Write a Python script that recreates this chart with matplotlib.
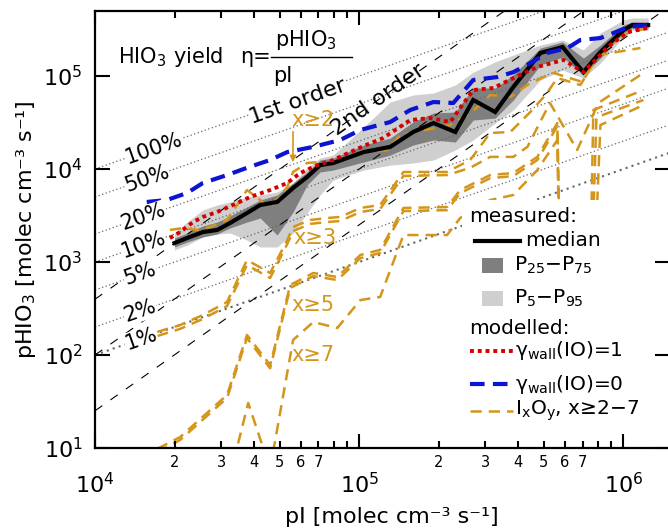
import matplotlib
matplotlib.use('agg')
import matplotlib.pyplot as plt
from matplotlib.patches import Rectangle
from matplotlib.ticker import FixedLocator, FixedFormatter, NullLocator
import numpy as np

# measured pHIO3 (binned by pI): median and percentile bands
pI_meas = [2.0e4, 2.23e4, 2.56e4, 2.90e4, 3.24e4, 3.76e4, 4.22e4, 4.89e4, 5.62e4, 6.35e4,
           7.11e4, 7.97e4, 1.04e5, 1.31e5, 1.60e5, 1.91e5, 2.31e5, 2.70e5, 3.27e5, 3.83e5,
           4.85e5, 5.88e5, 7.05e5, 8.18e5, 1.0e6, 1.08e6, 1.24e6]
median = [1600, 1810, 2100, 2210, 2620, 3360, 4100, 4420, 6250, 8200,
          11000, 11600, 15200, 17300, 25000, 31200, 25000, 55200, 41000, 76200,
          1.77e5, 2.05e5, 1.10e5, 1.81e5, 3.12e5, 3.53e5, 3.53e5]
p95 = [2050, 2690, 3630, 4100, 4420, 5000, 5250, 5660, 7070, 10300,
       13100, 14100, 28300, 52500, 62500, 65600, 80000, 1.10e5, 1.42e5, 1.68e5,
       2.15e5, 2.44e5, 1.91e5, 2.90e5, 4.00e5, 4.21e5, 4.21e5]
p5 = [1350, 1520, 1860, 2000, 2050, 1720, 1450, 1450, 2050, 3360,
      5250, 7620, 9750, 11000, 11600, 12500, 16000, 20500, 31200, 43100,
      90500, 1.16e5, 9.51e4, 1.38e5, 2.62e5, 3.12e5, 3.12e5]
p75 = [1810, 2050, 2440, 2690, 3120, 3900, 4640, 5250, 7070, 9290,
       12500, 13100, 18100, 21500, 32000, 40000, 41000, 74300, 74300, 1.03e5,
       2.00e5, 2.32e5, 1.56e5, 2.15e5, 3.53e5, 3.81e5, 3.81e5]
p25 = [1450, 1640, 1860, 2000, 2320, 2690, 2970, 1950, 3450, 6730,
       9290, 9750, 11900, 14100, 18100, 20500, 19500, 33600, 35300, 55200,
       1.31e5, 1.60e5, 1.03e5, 1.56e5, 2.90e5, 3.28e5, 3.28e5]

# modelled, gamma_wall(IO) = 1
pI_red = [1.92e4, 2.10e4, 2.35e4, 2.56e4, 2.90e4, 3.45e4, 3.86e4, 4.60e4, 5.34e4, 5.98e4,
          6.94e4, 7.97e4, 1.04e5, 1.23e5, 1.56e5, 1.86e5, 2.21e5, 2.41e5, 2.70e5, 3.22e5,
          3.83e5, 4.72e5, 5.93e5, 7.05e5, 7.97e5, 8.70e5, 1.04e6, 1.23e6]
red = [1810, 2100, 2690, 3050, 3450, 4300, 5000, 5940, 7070, 9060,
       11000, 12500, 17700, 21500, 33600, 35300, 32000, 45300, 70600, 74300,
       95100, 1.25e5, 1.49e5, 1.10e5, 1.56e5, 2.05e5, 2.97e5, 3.28e5]

# modelled, gamma_wall(IO) = 0
pI_blue = [1.57e4, 1.87e4, 2.23e4, 2.56e4, 3.16e4, 3.76e4, 4.60e4, 5.34e4, 6.70e4, 8.47e4,
           1.01e5, 1.31e5, 1.56e5, 1.91e5, 2.27e5, 2.70e5, 3.33e5, 3.83e5, 4.44e5, 5.15e5,
           6.14e5, 6.87e5, 8.18e5, 9.16e5, 1.04e6, 1.23e6]
blue = [4420, 4640, 5520, 7070, 8610, 10300, 12500, 15200, 17300, 20500,
        26300, 32000, 43100, 52500, 51300, 90500, 97500, 1.10e5, 1.38e5, 1.77e5,
        2.00e5, 2.44e5, 2.56e5, 2.90e5, 3.36e5, 3.53e5]

# modelled IxOy contributions, x >= 2 ... 7
pI_x2 = [1.92e4, 2.15e4, 2.43e4, 2.73e4, 3.16e4, 3.76e4, 4.22e4, 4.60e4, 5.34e4, 5.62e4,
         6.35e4, 7.11e4, 7.97e4, 9.25e4, 1.07e5, 1.28e5, 1.43e5, 1.78e5, 2.21e5, 2.56e5,
         2.87e5, 3.13e5, 3.73e5, 4.33e5, 4.98e5, 5.43e5, 7.0e5, 7.97e5, 8.93e5, 1.04e6, 1.23e6]
x2 = [2210, 2320, 2210, 2380, 2830, 5940, 4640, 3810, 6400, 9290,
      11600, 11900, 11600, 13500, 15200, 16000, 23200, 26300, 29700, 38100,
      48800, 62500, 59500, 80000, 97500, 1.08e5, 8.61e4, 1.68e5, 2.15e5, 2.90e5, 3.28e5]
pI_x3 = [1.72e4, 2.10e4, 2.56e4, 3.16e4, 3.76e4, 4.60e4, 5.34e4, 5.62e4, 6.52e4, 7.56e4,
         8.47e4, 1.01e5, 1.20e5, 1.47e5, 2.15e5, 2.63e5, 3.13e5, 3.73e5, 4.44e5, 5.07e5,
         5.62e5, 6.87e5, 8.04e5, 1.16e6]
x3 = [177, 210, 269, 371, 1050, 762, 1720, 2380, 2830, 2970,
      3050, 3810, 4100, 9290, 9290, 12500, 24400, 25000, 41000, 62500,
      95100, 80000, 1.68e5, 2.0e5]
pI_x4 = [1.72e4, 2.10e4, 2.56e4, 3.16e4, 3.76e4, 4.60e4, 5.34e4, 5.62e4, 6.52e4, 7.56e4,
         8.47e4, 1.01e5, 1.20e5, 1.47e5, 2.15e5, 2.63e5, 3.13e5, 3.83e5, 4.33e5, 5.27e5,
         6.68e5, 8.04e5, 1.19e6]
x4 = [160, 191, 244, 336, 929, 673, 1560, 2150, 2570, 2690,
      2760, 3450, 3720, 8420, 8610, 10300, 13500, 13500, 17300, 51300,
      16000, 51300, 1.08e5]
pI_x5 = [1.72e4, 2.10e4, 3.16e4, 3.76e4, 4.60e4, 5.48e4, 6.70e4, 8.26e4, 1.01e5, 1.20e5,
         1.47e5, 2.15e5, 2.41e5, 3.13e5, 3.83e5, 4.72e5, 5.62e5, 5.93e5, 7.18e5, 7.69e5, 1.19e6]
x5 = [9.8, 13.1, 37.2, 164, 78, 566, 762, 690, 1190, 1350,
      3810, 3900, 5940, 8610, 9060, 13500, 31200, 1, 1, 43100, 70700]
pI_x6 = [1.72e4, 2.10e4, 3.16e4, 3.76e4, 4.60e4, 5.48e4, 6.70e4, 8.26e4, 1.01e5, 1.20e5,
         1.47e5, 2.15e5, 2.41e5, 3.13e5, 3.83e5, 4.72e5, 5.62e5, 6.05e5, 7.05e5, 7.90e5, 1.19e6]
x6 = [9.0, 12.2, 34.5, 152, 72, 525, 705, 640, 1100, 1250,
      3530, 3610, 5500, 7970, 8400, 12500, 28900, 1, 1, 36000, 55200]
pI_x7 = [3.1e4, 3.80e4, 4.60e4, 5.62e4, 6.70e4, 8.26e4, 1.01e5, 1.20e5, 1.47e5, 2.15e5,
         2.41e5, 3.13e5, 3.83e5, 4.72e5, 5.62e5, 5.98e5, 7.05e5, 8.18e5, 1.19e6]
x7 = [3, 30.5, 6, 145, 226, 195, 390, 421, 1950, 1950,
      2970, 4640, 5250, 9750, 20500, 1, 1, 29700, 48800]

# yield guide lines (1st order) and 2nd-order guides
etas = [1.0, 0.5, 0.2, 0.1, 0.05, 0.02, 0.01]
eta_labels = ['100%', '50%', '20%', '10%', '5%', '2%', '1%']
eta_label_x = [1.67e4, 1.57e4, 1.53e4, 1.52e4, 1.48e4, 1.48e4, 1.49e4]
quad_k = [10**-6.6, 10**-6.0, 10**-5.4]

orange = '#d4961a'
W, H = 668, 530
X0, X1, Y0, Y1 = 95, 670, 448, 11   # axes box in pixels


def pax(x, y):
    return ((x - X0) / (X1 - X0), (Y0 - y) / (Y0 - Y1))


fig = plt.figure(figsize=(W / 100, H / 100), dpi=100)
ax = fig.add_axes([X0 / W, (H - Y0) / H, (X1 - X0) / W, (Y0 - Y1) / H])
ax.set_xscale('log')
ax.set_yscale('log')
ax.set_xlim(1e4, 1.5e6)
ax.set_ylim(10, 5e5)

# bands
ax.fill_between(pI_meas, p5, p95, color='#cfcfcf', lw=0, zorder=1)
ax.fill_between(pI_meas, p25, p75, color='#7f7f7f', lw=0, zorder=1.5)

# guides
xg = np.array([1e4, 1.6e6])
for eta in etas:
    ax.plot(xg, eta * xg, ls=(0, (1, 2)), color='0.4', lw=1.5 if eta == 0.01 else 0.9, zorder=2)
for k in quad_k:
    ax.plot(xg, k * xg**2, ls=(0, (8, 9)), color='k', lw=0.8, zorder=2)

# modelled IxOy lines
for xs, ys in [(pI_x7, x7), (pI_x6, x6), (pI_x5, x5), (pI_x4, x4), (pI_x3, x3), (pI_x2, x2)]:
    ax.plot(xs, ys, color=orange, lw=1.8, ls=(0, (4.5, 2.8)), zorder=3)

ax.plot(pI_meas, median, color='k', lw=3, zorder=3.5, solid_joinstyle='miter')
ax.plot(pI_blue, blue, color='#0a14d2', lw=3, ls=(0, (3.5, 2)), zorder=3.6)
ax.plot(pI_red, red, color='#d40000', lw=2.8, ls=(0, (1, 1)), zorder=3.7)

# label rotation angles from the display geometry
p0 = ax.transData.transform((1e4, 1e3))
p1 = ax.transData.transform((1e5, 1e4))
p2 = ax.transData.transform((1e5, 1e5))
ang1 = np.degrees(np.arctan2(p1[1] - p0[1], p1[0] - p0[0]))
ang2 = np.degrees(np.arctan2(p2[1] - p0[1], p2[0] - p0[0]))

for eta, lab, lx in zip(etas, eta_labels, eta_label_x):
    ax.text(lx, eta * lx, lab, rotation=ang1, rotation_mode='anchor', ha='center', va='center',
            fontsize=15, zorder=4, bbox=dict(fc='white', ec='none', pad=0.3))

ax.text(*pax(298, 102), '1st order', transform=ax.transAxes, rotation=ang1, rotation_mode='anchor',
        ha='center', va='center', fontsize=16, zorder=4,
        bbox=dict(fc='white', ec='none', pad=0.2))
ax.text(*pax(378, 100), '2nd order', transform=ax.transAxes, rotation=ang2, rotation_mode='anchor',
        ha='center', va='center', fontsize=16, zorder=4)

# yield definition
ax.text(*pax(118, 57), 'HIO$_3$ yield', transform=ax.transAxes, ha='left', va='center', fontsize=15)
ax.text(*pax(240, 57), 'η=', transform=ax.transAxes, ha='left', va='center', fontsize=15)
ax.text(*pax(306, 40), 'pHIO$_3$', transform=ax.transAxes, ha='center', va='center', fontsize=15)
ax.text(*pax(273, 76), 'pI', transform=ax.transAxes, ha='left', va='center', fontsize=15)
bx0, by = pax(271, 57)
bx1, _ = pax(352, 57)
ax.plot([bx0, bx1], [by, by], transform=ax.transAxes, color='k', lw=1)

# IxOy labels
for lab, (px, py) in [('x≥2', (313, 120)), ('x≥3', (315, 238)), ('x≥5', (313, 305)), ('x≥7', (313, 355))]:
    ax.text(*pax(px, py), lab, transform=ax.transAxes, ha='center', va='center',
            fontsize=15, color=orange, zorder=4)
ax.annotate('', xy=pax(293, 165), xytext=pax(293, 129), xycoords='axes fraction',
            arrowprops=dict(arrowstyle='-|>', color=orange, lw=1.2, mutation_scale=9), zorder=4)

# legend drawn by hand on a white box
lx0, ly0 = pax(462, 448)
lx1, ly1 = pax(670, 200)
ax.add_patch(Rectangle((lx0, ly0), lx1 - lx0, ly1 - ly0, transform=ax.transAxes,
                       fc='white', ec='none', zorder=5))
fs = 14.5
ax.text(*pax(469, 216), 'measured:', transform=ax.transAxes, ha='left', va='center', fontsize=fs, zorder=6)
ax.plot(*zip(pax(475, 241), pax(520, 241)), transform=ax.transAxes, color='k', lw=3, zorder=6)
ax.text(*pax(525, 241), 'median', transform=ax.transAxes, ha='left', va='center', fontsize=fs, zorder=6)
for (py, col, lab) in [(265, '#7f7f7f', 'P$_{25}$−P$_{75}$'), (298, '#cfcfcf', 'P$_{5}$−P$_{95}$')]:
    a0 = pax(482, py + 8)
    a1 = pax(503, py - 7)
    ax.add_patch(Rectangle(a0, a1[0] - a0[0], a1[1] - a0[1], transform=ax.transAxes,
                           fc=col, ec='none', zorder=6))
    ax.text(*pax(514, py), lab, transform=ax.transAxes, ha='left', va='center', fontsize=fs, zorder=6)
ax.text(*pax(469, 328), 'modelled:', transform=ax.transAxes, ha='left', va='center', fontsize=fs, zorder=6)
for (py, col, ls, lw, lab) in [(351, '#d40000', (0, (1, 1)), 2.8, 'γ$_{\\mathrm{wall}}$(IO)=1'),
                               (384, '#0a14d2', (0, (3.5, 2)), 3, 'γ$_{\\mathrm{wall}}$(IO)=0'),
                               (411, orange, (0, (4.5, 2.8)), 1.8, 'I$_{\\mathrm{x}}$O$_{\\mathrm{y}}$, x≥2−7')]:
    ax.plot(*zip(pax(470, py), pax(513, py)), transform=ax.transAxes, color=col, lw=lw, ls=ls, zorder=6)
    ax.text(*pax(515, py), lab, transform=ax.transAxes, ha='left', va='center', fontsize=fs, zorder=6)

# axes and ticks
ax.xaxis.set_major_locator(FixedLocator([1e4, 1e5, 1e6]))
minor_x = [m * 10**e for e in (4, 5) for m in range(2, 10)]
minor_lab = ['2', '3', '4', '5', '6', '7', '', ''] * 2
ax.xaxis.set_minor_locator(FixedLocator(minor_x))
ax.xaxis.set_minor_formatter(FixedFormatter(minor_lab))
ax.yaxis.set_major_locator(FixedLocator([1e1, 1e2, 1e3, 1e4, 1e5]))
ax.yaxis.set_minor_locator(NullLocator())
ax.tick_params(axis='x', which='major', direction='in', length=10, width=1.5, top=True, pad=17, labelsize=16)
ax.tick_params(axis='x', which='minor', direction='in', length=5, width=1.5, top=True, pad=5, labelsize=10.5)
ax.tick_params(axis='y', which='major', direction='in', length=11, width=1.5, right=True, pad=9, labelsize=16)
ax.xaxis.set_zorder(7)
ax.yaxis.set_zorder(7)
for s in ax.spines.values():
    s.set_linewidth(1.6)
    s.set_zorder(7)

ax.set_xlabel('pI [molec cm⁻³ s⁻¹]', fontsize=16)
ax.set_ylabel('pHIO$_3$ [molec cm⁻³ s⁻¹]', fontsize=16)
ax.xaxis.set_label_coords((392 - X0) / (X1 - X0), (Y0 - 507) / (Y0 - Y1))
ax.yaxis.set_label_coords((38 - X0) / (X1 - X0), 0.5)

fig.savefig('out.png', dpi=100)
